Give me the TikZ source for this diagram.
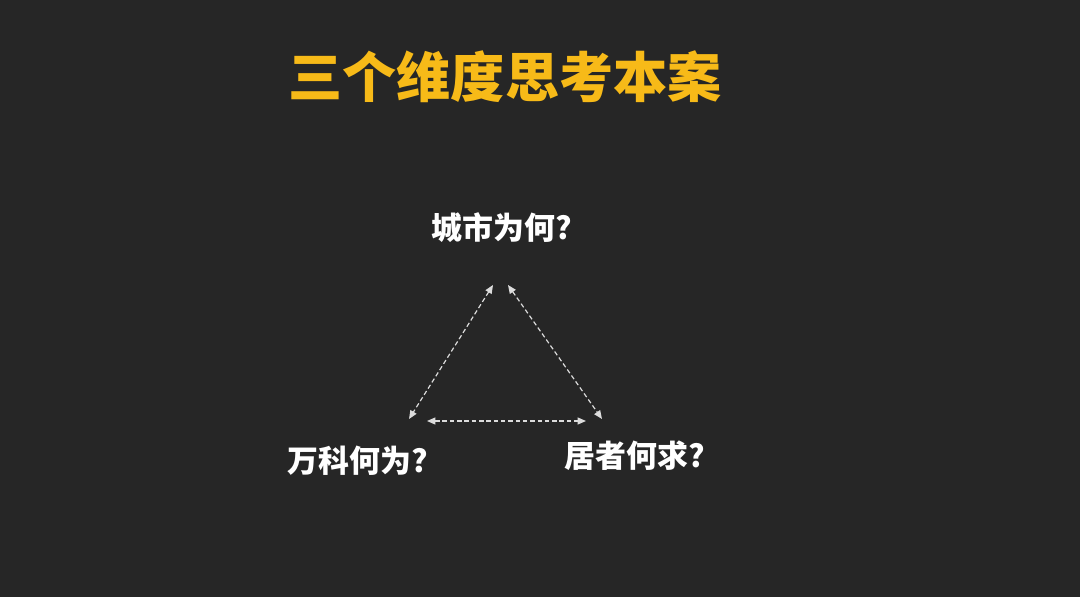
\documentclass[tikz,border=0pt]{standalone}
\usepackage{fontspec}
\newfontfamily\cjk{Noto Sans CJK SC}
\usepackage{xcolor}
\usetikzlibrary{arrows.meta, positioning}
\definecolor{bgdark}{RGB}{38,38,38}
\definecolor{titleyellow}{RGB}{247,186,24}
\definecolor{linegray}{RGB}{220,220,220}

\begin{document}
\begin{tikzpicture}[x=0.025cm, y=-0.025cm,
  title/.style={font=\cjk\bfseries\fontsize{38.5}{38.5}\selectfont, text=titleyellow},
  corner/.style={font=\cjk\bfseries\fontsize{22}{22}\selectfont, text=white},
  link/.style={{Triangle[length=6pt,width=5pt]}-{Triangle[length=6pt,width=5pt]}, linegray, dash pattern=on 3.2pt off 2pt, line width=0.85pt}]
  \fill[bgdark] (0,0) rectangle (1080,597);
  \useasboundingbox (0,0) rectangle (1080,597);
  \node[title] (head) at (505,77) {三个维度思考本案};
  \node[corner] (city) at (502,228) {城市为何?};
  \node[corner] (vanke) at (358,461) {万科何为?};
  \node[corner] (resid) at (635,456) {居者何求?};
  \coordinate (cityL) at (493,285);
  \coordinate (cityR) at (508,285);
  \coordinate (vankeT) at (409,419);
  \coordinate (vankeR) at (427,421);
  \coordinate (residT) at (602,419);
  \coordinate (residL) at (586,421);
  \draw[link] (cityL) -- (vankeT);
  \draw[link] (cityR) -- (residT);
  \draw[link] (vankeR) -- (residL);
\end{tikzpicture}
\end{document}
